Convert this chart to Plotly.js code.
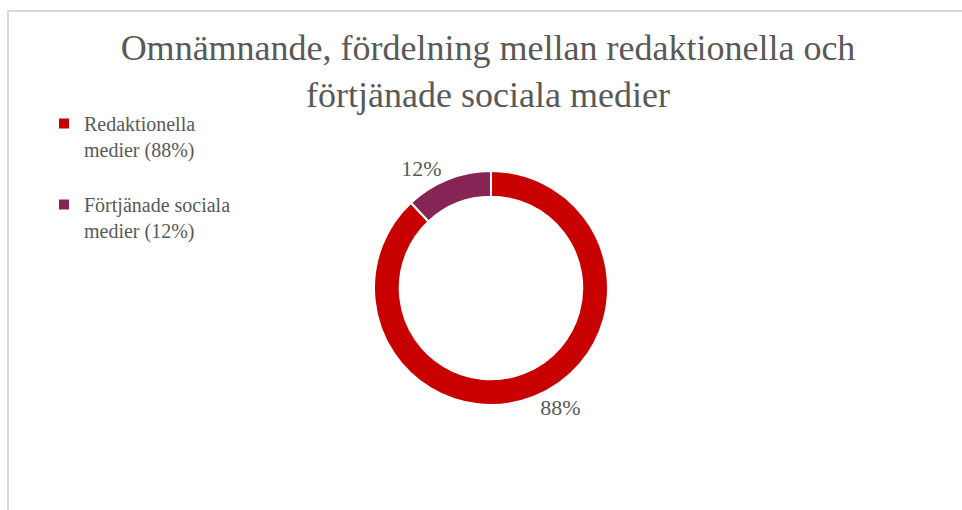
<!DOCTYPE html>
<html>
<head>
<meta charset="utf-8">
<script src="https://cdn.plot.ly/plotly-3.0.1.min.js"></script>
<style>html,body{margin:0;padding:0;background:#fff;}#chart{width:962px;height:510px;}</style>
</head>
<body>
<div id="chart"></div>
<script>
const labels = ["Redaktionella<br>medier (88%)<br> ", "Förtjänade sociala<br>medier (12%)"];
const values = [88, 12];
const colors = ["#C80000", "#862456"];
const titleText = "Omnämnande, fördelning mellan redaktionella och<br>förtjänade sociala medier";

const W = 962, H = 510;
const cx = 491, cy = 288, R = 117;

const data = [{
  type: "pie",
  labels: labels,
  values: values,
  hole: 0.78,
  sort: false,
  direction: "clockwise",
  rotation: 0,
  marker: {colors: colors, line: {color: "#ffffff", width: 2}},
  textinfo: "percent",
  textposition: "outside",
  outsidetextfont: {family: "Liberation Serif, serif", size: 22, color: "#595959"},
  domain: {x: [(cx - R) / W, (cx + R) / W], y: [1 - (cy + R) / H, 1 - (cy - R) / H]},
  hoverinfo: "label+percent"
}];

const layout = {
  width: W, height: H,
  margin: {l: 0, r: 0, t: 0, b: 0},
  paper_bgcolor: "#ffffff",
  font: {family: "Liberation Serif, serif", color: "#595959"},
  title: {
    text: titleText,
    font: {family: "Liberation Serif, serif", size: 36, color: "#595959"},
    x: 488 / W, xanchor: "center",
    y: 1 - 60 / H, yanchor: "top",
    xref: "container", yref: "container"
  },
  showlegend: true,
  legend: {
    x: 44 / W, xanchor: "left",
    y: 1 - 104 / H, yanchor: "top",
    valign: "top",
    font: {family: "Liberation Serif, serif", size: 20, color: "#595959"},
    bgcolor: "rgba(0,0,0,0)"
  },
  shapes: [{
    type: "rect", xref: "paper", yref: "paper",
    x0: 8 / W, x1: 1.1, y0: -0.1, y1: 1 - 11 / H,
    line: {color: "#d9d9d9", width: 2}
  }]
};

Plotly.newPlot("chart", data, layout, {displayModeBar: false});
</script>
</body>
</html>
